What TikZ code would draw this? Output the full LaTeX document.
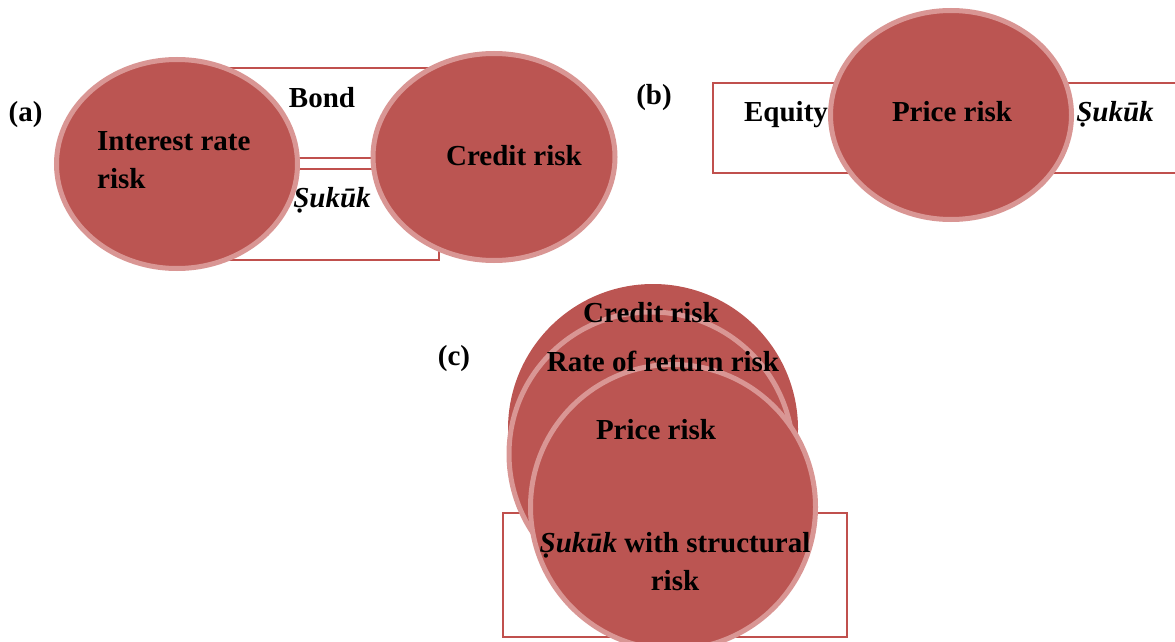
\documentclass[tikz,border=0pt]{standalone}
\usepackage{fontspec}
\setmainfont{Liberation Serif}
\usetikzlibrary{shapes.geometric}
\definecolor{rfill}{RGB}{187,85,82}
\definecolor{rring}{RGB}{217,150,148}
\definecolor{rline}{RGB}{192,80,77}
\begin{document}
\begin{tikzpicture}[x=1pt,y=-1pt,
  riskshape/.style={ellipse, draw=rring, line width=5pt, fill=rfill, inner sep=0pt},
  frame/.style={rectangle, draw=rline, line width=2pt, inner sep=0pt},
  lbl/.style={font=\fontsize{29}{38}\selectfont\bfseries, inner sep=0pt, anchor=base},
]
\useasboundingbox (0,0) rectangle (1175,642);
\clip (0,0) rectangle (1175,642);
% ---------- (a)
\node[frame, minimum width=232pt, minimum height=90pt] (bondbox) at (316,113) {};
\node[frame, minimum width=239pt, minimum height=91pt] (sukukbox) at (319.5,214.5) {};
\node[riskshape, minimum width=241pt, minimum height=209pt] (irr) at (177,164) {};
\node[riskshape, minimum width=242pt, minimum height=207pt] (cra) at (494,157) {};
\node[lbl] (la) at (25.5,121) {(a)};
\node[lbl] (bond) at (322,107) {Bond};
\node[lbl, align=left, anchor=base west] (irrt) at (97,188) {Interest rate\\risk};
\node[lbl] (suka) at (332,207) {\itshape Ṣukūk};
\node[lbl] (crat) at (514,165) {Credit risk};
% ---------- (b)
\node[frame, minimum width=472pt, minimum height=90pt] (eqbox) at (949,128) {};
\node[riskshape, minimum width=241pt, minimum height=209pt] (prb) at (951,115) {};
\node[lbl] (lb) at (654,104) {(b)};
\node[lbl] (equity) at (786,121) {Equity};
\node[lbl] (prbt) at (952,121) {Price risk};
\node[lbl] (sukb) at (1115,121) {\itshape Ṣukūk};
% ---------- (c)
\node[frame, minimum width=344pt, minimum height=124pt] (structbox) at (675,575) {};
\node[circle, fill=rfill, inner sep=0pt, minimum size=290pt] (crc) at (653,429) {};
\node[circle, draw=rring, line width=5pt, fill=rfill, inner sep=0pt, minimum size=284pt] (rrc) at (651,454) {};
\node[circle, draw=rring, line width=5pt, fill=rfill, inner sep=0pt, minimum size=285pt] (prc) at (673,507) {};
\node[lbl] (lc) at (454,365) {(c)};
\node[lbl] (crct) at (651,322) {Credit risk};
\node[lbl] (rrct) at (663,371) {Rate of return risk};
\node[lbl] (prct) at (656,439) {Price risk};
\node[lbl, align=center] (structt) at (675,590) {{\itshape Ṣukūk} with structural\\risk};
\end{tikzpicture}
\end{document}
